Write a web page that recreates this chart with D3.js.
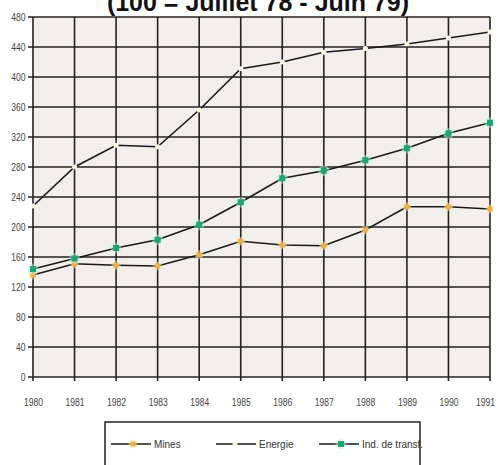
<!DOCTYPE html>
<html><head><meta charset="utf-8">
<script src="https://cdn.jsdelivr.net/npm/d3@7"></script>
<style>body{margin:0;background:#fff;} svg{display:block;}</style>
</head><body>
<svg id="c" width="498" height="465"></svg>
<script>
const years = [1980,1981,1982,1983,1984,1985,1986,1987,1988,1989,1990,1991];
const mines = [136,151,149,148,163,181,176,175,196,227,227,224];
const energie = [228,280,309,307,356,411,420,433,438,444,452,460];
const indTransf = [144,158,172,183,203,233,265,275,289,305,325,339];
const yTicks = [0,40,80,120,160,200,240,280,320,360,400,440,480];
const seriesNames = ["Mines","Energie","Ind. de transf."];
const title = "(100 = Juillet 78 - Juin 79)";

const svg = d3.select("#c");
const L=33, R=490, T=17, B=377;
const x = d3.scalePoint().domain(years).range([L,R]);
const y = d3.scaleLinear().domain([0,480]).range([B,T]);
const font = "'Liberation Sans Narrow','Arial Narrow','Liberation Sans',sans-serif";

svg.append("text").attr("x",258).attr("y",11).attr("text-anchor","middle")
  .attr("font-family","'Liberation Sans',Arial,sans-serif").attr("font-weight","bold")
  .attr("font-size",25).attr("fill","#111").text(title);

svg.append("rect").attr("x",L).attr("y",T).attr("width",R-L).attr("height",B-T).attr("fill","#f3efec");

// grid
const g = svg.append("g");
g.selectAll(".hl").data(yTicks).join("line")
  .attr("x1",L-5).attr("x2",R).attr("y1",d=>y(d)).attr("y2",d=>y(d))
  .attr("stroke","#222").attr("stroke-width",1.6);
g.selectAll(".vl").data(years).join("line")
  .attr("x1",d=>x(d)).attr("x2",d=>x(d)).attr("y1",T).attr("y2",B+4)
  .attr("stroke","#222").attr("stroke-width",1.6);

// axes labels
const ya = svg.append("g").attr("transform",`translate(${L-5},0)`)
  .call(d3.axisLeft(y).tickValues(yTicks).tickSize(0).tickPadding(4));
ya.select(".domain").remove();
ya.selectAll("text").attr("font-family",font).attr("font-size",10).attr("fill","#444")
  .attr("transform","scale(0.85,1)").attr("x",-3);
const xa = svg.append("g").attr("transform",`translate(0,${B+4})`)
  .call(d3.axisBottom(x).tickSize(0).tickPadding(18).tickFormat(d3.format("d")));
xa.select(".domain").remove();
xa.selectAll("text").attr("font-family",font).attr("font-size",10).attr("fill","#444")
  .attr("textLength",19).attr("lengthAdjust","spacingAndGlyphs");
xa.selectAll(".tick").filter(d=>d===years[years.length-1]).select("text").attr("dx",-5);

const line = d3.line().x((d,i)=>x(years[i])).y(d=>y(d));
const lines = [
  {name:seriesNames[0], data:mines, color:"#f2b04a", shape:"square", size:5, glow:"#ffe9a0"},
  {name:seriesNames[1], data:energie, color:"#fffbe6", shape:"circle", size:2.5, glow:null},
  {name:seriesNames[2], data:indTransf, color:"#19a86e", shape:"square", size:6, glow:"#bff3dc"}
];
lines.forEach(s=>{
  svg.append("path").datum(s.data).attr("d",line).attr("fill","none")
    .attr("stroke","#1a1a1a").attr("stroke-width",1.6);
});
function marker(sel, s, cx, cy){
  if(s.glow) sel.append("circle").attr("cx",cx).attr("cy",cy).attr("r",s.size-0.5).attr("fill",s.glow).attr("opacity",0.45);
  if(s.shape==="square") sel.append("rect").attr("x",cx-s.size/2).attr("y",cy-s.size/2)
     .attr("width",s.size).attr("height",s.size).attr("fill",s.color);
  else sel.append("circle").attr("cx",cx).attr("cy",cy).attr("r",s.size).attr("fill",s.color);
}
lines.forEach(s=>{
  const mg = svg.append("g");
  s.data.forEach((v,i)=>marker(mg,s,x(years[i]),y(v)));
});

// legend
const lg = svg.append("g");
lg.append("rect").attr("x",105).attr("y",422).attr("width",315).attr("height",60)
  .attr("fill","#fff").attr("stroke","#222").attr("stroke-width",1.5);
const lx=[111,216,319];
lines.forEach((s,i)=>{
  const ly=444;
  lg.append("line").attr("x1",lx[i]).attr("x2",lx[i]+40).attr("y1",ly).attr("y2",ly)
    .attr("stroke","#1a1a1a").attr("stroke-width",1.5);
  marker(lg,s,lx[i]+(i===1?19:22),ly);
  lg.append("text").attr("x",lx[i]+43).attr("y",ly+4).attr("font-family",font)
    .attr("font-size",10).attr("fill","#333").text(s.name);
});
</script>
</body></html>
